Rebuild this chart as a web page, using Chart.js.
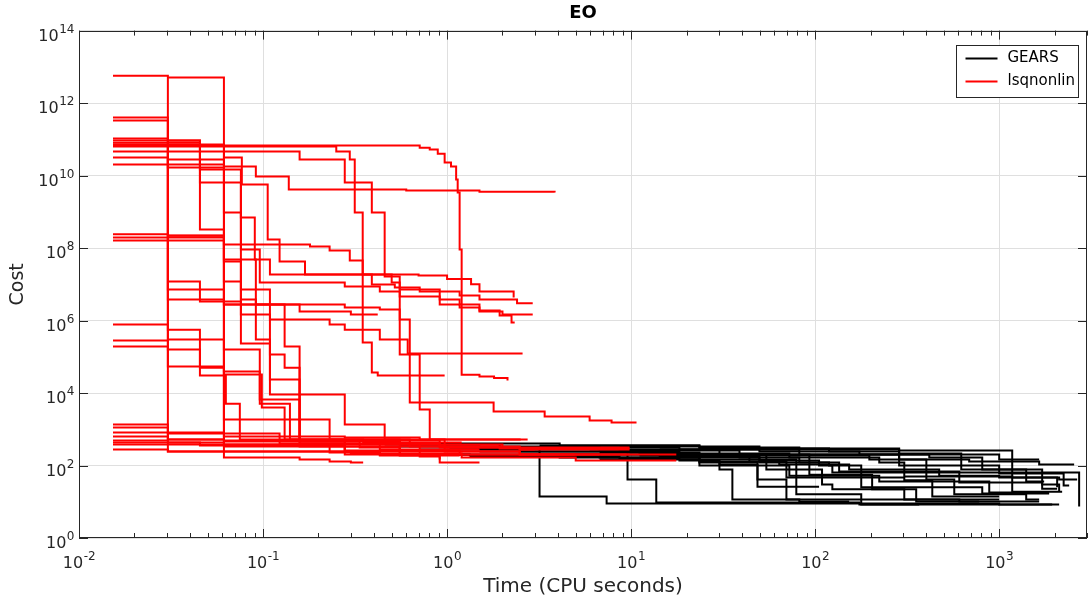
<!DOCTYPE html>
<html>
<head>
<meta charset="utf-8">
<title>EO</title>
<script src="https://cdn.jsdelivr.net/npm/chart.js@4.4.1/dist/chart.umd.min.js"></script>
<style>
  html, body { margin: 0; padding: 0; background: #fff; }
  #wrap { width: 1088px; height: 603px; }
</style>
</head>
<body>
<div id="wrap"><canvas id="eo-chart" width="1088" height="603"></canvas></div>
<script>
// each run: [time (CPU s), cost] at the moments the best cost changed
var gears01 = [[0.458,334],[1.5,294],[3.18,14],[7.36,9.0],[1000,8.4],[1940,8.4]];
var gears02 = [[0.553,379],[1.93,334],[6.74,276],[9.56,41],[13.7,9.5],[174,8.4],[368,8.4]];
var gears03 = [[0.71,276],[2.48,243],[18.3,201],[38.8,166],[82,121],[119,100],[124,64],[2719,7.4]];
var gears04 = [[1.03,201],[6.74,166],[23.5,129],[30.2,78],[35.5,11.5],[82,10.2],[153,10.2]];
var gears05 = [[1.33,177],[8.65,156],[18.3,137],[30.2,107],[48.6,41],[69.8,11.5],[607,10.2],[1649,10.2]];
var gears06 = [[1.5,243],[11.1,214],[23.5,201],[54.3,78],[109,30],[124,22],[305,11.5],[1000,11.5]];
var gears07 = [[1.93,314],[18.3,276],[49.8,243],[174,201],[417,166],[809,78],[1712,30],[2117,19]];
var gears08 = [[3.18,356],[23.5,314],[82,294],[286,259],[1177,47],[2065,25]];
var gears09 = [[4.09,201],[23.5,147],[79,16],[178,8.4],[2117,8.4]];
var gears10 = [[5.95,276],[30.2,201],[93,56],[204,22],[354,10.2],[779,10.2]];
var gears11 = [[6.74,228],[23.5,189],[197,147],[402,41],[570,16],[1402,11.5],[1649,11.5]];
var gears12 = [[8.65,334],[49.8,276],[286,214],[622,78],[1402,36],[1755,36]];
var gears13 = [[11.1,189],[43.9,129],[69.8,47],[305,39],[433,14],[1000,14]];
var gears14 = [[14.3,276],[82,201],[286,147],[687,129],[1649,107],[2554,107]];
var gears15 = [[18.3,166],[49.8,137],[105,100],[178,25],[809,17],[1868,17]];
var gears16 = [[23.5,214],[72.4,166],[223,121],[305,50],[1177,19],[2198,19]];
var gears17 = [[0.431,201],[1.33,189],[4.09,166],[23.5,121],[48.6,26],[105,26]];
var gears18 = [[0.805,405],[4.09,356],[23.5,294],[119,243],[286,201],[1000,147],[1649,147]];
var gears19 = [[30.2,129],[63.8,107],[153,78],[472,52],[1000,47],[2117,41],[2652,41]];
var gears20 = [[1.03,314],[8.65,259],[38.8,201],[286,100],[1000,60],[2240,28],[2400,28]];
var gears21 = [[2.48,201],[14.3,177],[49.8,121],[135,68],[607,34],[1712,23],[2065,23]];
var gears22 = [[6.74,147],[23.5,100],[72.4,52],[223,36],[883,18],[1868,18]];

var lsq01 = [[0.0153,5.7e12],[0.0304,2.2e8],[0.0613,490],[0.912,334],[2.48,276],[2.99,276]];
var lsq02 = [[0.0304,5.05e12],[0.0613,1.19e7],[0.0758,3.79e6],[0.0914,3.0e5],[0.109,9.1e3],[0.158,521],[0.278,201],[0.912,201]];
var lsq03 = [[0.0153,3.98e11],[0.0304,5.6e5],[0.0454,5.0e4],[0.0613,1.86e3],[0.158,334],[0.553,201],[9.8,201]];
var lsq04 = [[0.0153,3.29e11],[0.0304,521],[0.0613,243],[2.48,201],[6.74,201]];
var lsq05 = [[0.0153,1.05e11],[0.0304,1.66e10],[0.0613,1.58e5],[0.096,6.6e3],[0.158,459],[0.278,259],[0.71,259]];
var lsq06 = [[0.0153,9.24e10],[0.0454,3.24e8],[0.0613,4.25e7],[0.0758,1.47e6],[0.109,1.15e5],[0.131,5.0e4],[0.158,1.86e3],[0.23,521],[0.97,314],[2.19,314]];
var lsq07 = [[0.0153,6.73e10],[0.71,5.9e10],[0.805,5.2e10],[0.89,4.0e10],[0.97,2.3e10],[1.05,1.77e10],[1.12,7.8e9],[1.142,3.4e9],[1.17,9.1e7],[1.2,3.2e4],[1.5,2.85e4],[1.8,2.6e4],[2.13,2.21e4]];
var lsq08 = [[0.0153,6.3e10],[0.25,4.6e10],[0.296,2.76e10],[0.315,9.53e8],[0.348,2.47e5],[0.39,3.68e4],[0.42,3.04e4],[0.97,3.04e4]];
var lsq09 = [[0.0153,2.01e10],[0.0613,1.77e10],[0.0914,9.4e9],[0.138,4.11e9],[0.6,3.86e9],[1.5,3.6e9],[3.84,3.4e9]];
var lsq10 = [[0.0153,2.4e8],[0.0304,1.95e8],[0.0613,379],[2.0,314],[9.8,314]];
var lsq11 = [[0.0153,1.61e8],[0.0613,1.25e8],[0.18,1.1e8],[0.23,8.5e7],[0.296,4.52e7],[0.348,1.86e7],[0.7,1.74e7],[1.0,1.4e7],[1.35,1.0e7],[1.5,6.3e6],[2.3,4.31e6]];
var lsq12 = [[0.0304,1.19e7],[0.0454,3.34e6],[0.0758,2.32e5],[0.109,2.36e4],[0.158,490],[0.431,276],[1.5,276]];
var lsq13 = [[0.0153,7.8e5],[0.0304,3.0e5],[0.0613,3.92e4],[0.096,5.1e3],[0.14,521],[0.553,379],[0.71,201],[0.97,201]];
var lsq14 = [[0.0153,2.81e5],[0.0304,1.58e5],[0.0454,3.04e4],[0.0628,5.1e3],[0.0748,521],[0.158,459],[0.553,189],[0.912,147]];
var lsq15 = [[0.0153,1.92e5],[0.0304,5.4e4],[0.0613,3.24e4],[0.0985,3.98e3],[0.131,521],[0.35,431],[1.2,431]];
var lsq16 = [[0.0153,8.1e10],[0.0454,6.41e9],[0.0758,6.94e8],[0.0902,4.82e7],[0.109,1.86e7],[0.39,9.8e6],[0.52,8.1e6],[0.71,6.3e6],[1.17,4.9e6],[1.5,3.79e6],[2.4,3.0e6],[2.92,3.0e6]];
var lsq17 = [[0.0304,2.76e10],[0.0613,9.53e8],[0.0758,9.1e7],[0.096,1.12e7],[0.278,8.7e6],[0.431,6.3e6],[0.553,4.6e6],[0.912,2.76e6],[1.17,2.28e6],[1.5,1.77e6],[2.0,1.47e6],[2.92,1.47e6]];
var lsq18 = [[0.0153,4.59e10],[0.0613,3.14e10],[0.0767,5.65e9],[0.106,1.72e8],[0.123,4.25e7],[0.169,1.86e7],[0.5,1.12e7],[0.553,7.2e6],[0.912,3.79e6],[1.17,2.76e6],[1.5,1.9e6],[1.93,1.37e6],[2.24,8.8e5],[2.33,8.8e5]];
var lsq19 = [[0.0153,3.14e10],[0.0304,3.79e6],[0.0613,2.76e6],[0.158,1.77e6],[0.3,1.47e6],[0.42,1.47e6]];
var lsq20 = [[0.0304,2.21e8],[0.0613,4.82e7],[0.0758,7.2e6],[0.109,1.07e6],[0.23,7.8e5],[0.278,5.6e5],[0.431,3.0e5],[0.611,1.23e5],[2.54,1.15e5]];
var lsq21 = [[0.0153,1.95e8],[0.0304,7.2e6],[0.0613,2.76e6],[0.278,2.28e6],[0.431,2.01e6],[0.553,1.15e5],[0.627,5.5e3],[1.79,3.09e3],[3.39,2.25e3],[5.95,1.74e3],[7.83,1.54e3],[10.7,1.54e3]];
var lsq22 = [[0.0153,1.35e3],[0.0304,813],[0.0613,631],[0.278,592],[0.71,521],[2.74,521]];
var lsq23 = [[0.0153,1.12e3],[0.0304,764],[0.123,405],[0.912,314],[2.48,276],[9.8,276]];
var lsq24 = [[0.0153,813],[0.0304,521],[0.0613,459],[0.335,314],[0.553,259],[1.17,201],[4.93,201]];
var lsq25 = [[0.0153,631],[0.0304,431],[0.0454,356],[0.278,243],[0.431,201],[0.71,177],[0.912,121],[1.5,121]];
var lsq26 = [[0.0153,490],[0.0304,379],[0.23,228],[0.431,189],[1.17,189]];
var lsq27 = [[0.0153,379],[0.0304,243],[0.0613,166],[0.158,147],[0.23,129],[0.3,121],[0.35,121]];
var lsq28 = [[0.0304,9.24e10],[0.0454,1.47e10],[0.0758,4.82e7],[0.0914,2.76e6],[0.131,1.92e5],[0.158,9.1e3],[0.278,1.35e3],[0.458,521],[0.627,334],[1.93,294],[9.8,294]];
var lsq29 = [[0.0153,7.2e10],[0.0613,4.59e10],[0.158,2.76e10],[0.278,6.41e9],[0.39,9.53e8],[0.458,1.64e7],[0.553,1.07e6],[0.627,1.15e5],[0.71,3.51e3],[0.805,521],[2.48,490]];
var lsq30 = [[0.0153,431],[0.0613,334],[0.97,243],[2.48,201],[17.6,201]];
var lsq31 = [[0.0153,276],[0.0304,243],[0.3,214],[1.2,166],[5,137],[17.6,137]];

var gearsRuns = [gears01, gears02, gears03, gears04, gears05, gears06, gears07, gears08, gears09, gears10, gears11,
                 gears12, gears13, gears14, gears15, gears16, gears17, gears18, gears19, gears20, gears21, gears22];
var lsqRuns = [lsq01, lsq02, lsq03, lsq04, lsq05, lsq06, lsq07, lsq08, lsq09, lsq10, lsq11,
               lsq12, lsq13, lsq14, lsq15, lsq16, lsq17, lsq18, lsq19, lsq20, lsq21, lsq22,
               lsq23, lsq24, lsq25, lsq26, lsq27, lsq28, lsq29, lsq30, lsq31];

// axes
var xDecades = [-2, -1, 0, 1, 2, 3];
var xMinorSteps = [2, 3, 4, 5, 6, 7, 8, 9];
var yDecades = [0, 2, 4, 6, 8, 10, 12, 14];
var xLimits = [0.01, 3000];
var yLimits = [1, 1e14];
var seriesNames = ['GEARS', 'lsqnonlin'];

var FONT = 'DejaVu Sans';
var AXIS_COLOR = '#262626';
var GRID_COLOR = '#dfdfdf';
var GEARS_COLOR = '#000000';
var LSQ_COLOR = '#ff0000';

function buildTicks(decades, minors, maxVal) {
    var out = [];
    decades.forEach(function(d) {
        var base = Math.pow(10, d);
        out.push({ value: base, major: true, exp: d });
        minors.forEach(function(m) {
            var v = m * base;
            if (v <= maxVal) out.push({ value: v, major: false });
        });
    });
    return out;
}

var xTicks = buildTicks(xDecades, xMinorSteps, xLimits[1]);
var yTicks = buildTicks(yDecades, [], yLimits[1]);

function toPoints(run) {
    return run.map(function(p) { return { x: p[0], y: p[1] }; });
}

var datasets = [];
gearsRuns.forEach(function(run, i) {
    datasets.push({
        label: i === 0 ? seriesNames[0] : seriesNames[0] + ' ' + (i + 1),
        data: toPoints(run),
        borderColor: GEARS_COLOR,
        borderWidth: 2,
        stepped: true,
        pointRadius: 0,
        fill: false,
        order: 1
    });
});
lsqRuns.forEach(function(run, i) {
    datasets.push({
        label: i === 0 ? seriesNames[1] : seriesNames[1] + ' ' + (i + 1),
        data: toPoints(run),
        borderColor: LSQ_COLOR,
        borderWidth: 2,
        stepped: true,
        pointRadius: 0,
        fill: false,
        order: 0
    });
});

// "10" with a raised exponent, like MATLAB's tex tick labels
function drawPow(ctx, exp, x, y, align) {
    ctx.font = '16px "' + FONT + '"';
    var w1 = ctx.measureText('10').width;
    ctx.font = '12px "' + FONT + '"';
    var es = String(exp);
    var w2 = ctx.measureText(es).width;
    var x0 = align === 'right' ? x - w1 - w2 : x - (w1 + w2) / 2;
    ctx.font = '16px "' + FONT + '"';
    ctx.fillText('10', x0, y);
    ctx.font = '12px "' + FONT + '"';
    ctx.fillText(es, x0 + w1 + 0.5, y - 8);
}

// box, inward tick marks, tick labels and the legend
var axesDecor = {
    id: 'axesDecor',
    afterDraw: function(chart) {
        var ctx = chart.ctx, a = chart.chartArea;
        var xs = chart.scales.x, ys = chart.scales.y;
        ctx.save();
        ctx.strokeStyle = AXIS_COLOR;
        ctx.lineWidth = 1;
        ctx.beginPath();
        xTicks.forEach(function(t) {
            var px = Math.round(xs.getPixelForValue(t.value)) + 0.5;
            var len = t.major ? 9 : 5;
            ctx.moveTo(px, a.bottom); ctx.lineTo(px, a.bottom - len);
            ctx.moveTo(px, a.top); ctx.lineTo(px, a.top + len);
        });
        yTicks.forEach(function(t) {
            var py = Math.round(ys.getPixelForValue(t.value)) + 0.5;
            ctx.moveTo(a.left, py); ctx.lineTo(a.left + 9, py);
            ctx.moveTo(a.right, py); ctx.lineTo(a.right - 9, py);
        });
        ctx.stroke();
        ctx.strokeRect(Math.round(a.left) + 0.5, Math.round(a.top) + 0.5,
                       Math.round(a.right - a.left) - 1, Math.round(a.bottom - a.top) - 1);

        ctx.fillStyle = AXIS_COLOR;
        ctx.textBaseline = 'alphabetic';
        ctx.textAlign = 'left';
        xTicks.forEach(function(t) {
            if (!t.major) return;
            drawPow(ctx, t.exp, xs.getPixelForValue(t.value), a.bottom + 30, 'center');
        });
        yTicks.forEach(function(t) {
            drawPow(ctx, t.exp, a.left - 5, ys.getPixelForValue(t.value) + 10, 'right');
        });

        // legend
        var w = 122, h = 52;
        var x0 = Math.round(a.right) - 9 - w + 0.5, y0 = Math.round(a.top) + 14 + 0.5;
        ctx.fillStyle = '#ffffff';
        ctx.fillRect(x0, y0, w, h);
        ctx.strokeStyle = AXIS_COLOR;
        ctx.lineWidth = 1;
        ctx.strokeRect(x0, y0, w, h);
        var rows = [[seriesNames[0], GEARS_COLOR], [seriesNames[1], LSQ_COLOR]];
        ctx.font = '15px "' + FONT + '"';
        ctx.textBaseline = 'middle';
        rows.forEach(function(r, i) {
            var yy = y0 + 13 + i * 23;
            ctx.strokeStyle = r[1];
            ctx.lineWidth = 2;
            ctx.beginPath();
            ctx.moveTo(x0 + 9, yy); ctx.lineTo(x0 + 41, yy);
            ctx.stroke();
            ctx.fillStyle = '#000000';
            ctx.fillText(r[0], x0 + 51, yy);
        });
        ctx.restore();
    }
};

new Chart(document.getElementById('eo-chart'), {
    type: 'line',
    data: { datasets: datasets },
    options: {
        responsive: false,
        animation: false,
        devicePixelRatio: 1,
        layout: { padding: { left: 0, right: 1, top: 0, bottom: 0 } },
        plugins: {
            legend: { display: false },
            tooltip: { enabled: false },
            title: {
                display: true,
                text: 'EO',
                fullSize: false,
                color: '#000000',
                font: { family: FONT, size: 18, weight: 'bold' },
                padding: { top: 3, bottom: 6 }
            }
        },
        scales: {
            x: {
                type: 'logarithmic',
                min: xLimits[0],
                max: xLimits[1],
                afterBuildTicks: function(scale) { scale.ticks = xTicks.map(function(t) { return Object.assign({}, t); }); },
                afterFit: function(scale) { scale.height = 65; scale.paddingLeft = 0; scale.paddingRight = 0; },
                border: { display: false },
                grid: {
                    drawTicks: false,
                    color: function(c) { return c.tick && c.tick.major ? GRID_COLOR : 'rgba(0,0,0,0)'; }
                },
                ticks: { display: false, autoSkip: false },
                title: {
                    display: true,
                    text: 'Time (CPU seconds)',
                    color: AXIS_COLOR,
                    font: { family: FONT, size: 20 },
                    padding: { top: 0, bottom: 4 }
                }
            },
            y: {
                type: 'logarithmic',
                min: yLimits[0],
                max: yLimits[1],
                afterBuildTicks: function(scale) { scale.ticks = yTicks.map(function(t) { return Object.assign({}, t); }); },
                afterFit: function(scale) { scale.width = 79; scale.paddingTop = 0; scale.paddingBottom = 0; },
                border: { display: false },
                grid: {
                    drawTicks: false,
                    color: GRID_COLOR
                },
                ticks: { display: false, autoSkip: false },
                title: {
                    display: true,
                    text: 'Cost',
                    color: AXIS_COLOR,
                    font: { family: FONT, size: 19 },
                    padding: { top: 7, bottom: 0 }
                }
            }
        }
    },
    plugins: [axesDecor]
});
</script>
</body>
</html>
